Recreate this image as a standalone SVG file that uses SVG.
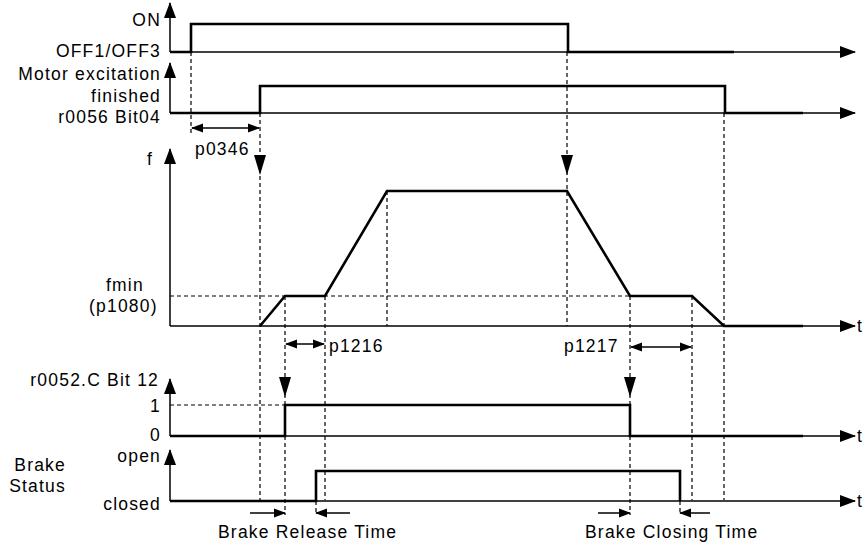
<svg xmlns="http://www.w3.org/2000/svg" width="864" height="546" viewBox="0 0 864 546">
<style>
text{font-family:"Liberation Sans",Arial,sans-serif;font-size:17.5px;letter-spacing:1.2px;fill:#000}
.r{text-anchor:end}
.ax{stroke:#000;stroke-width:1.5;fill:none}
.sig{stroke:#000;stroke-width:2.6;fill:none;stroke-linejoin:miter}
.d{stroke:#000;stroke-width:1.2;fill:none;stroke-dasharray:4,3}
.dim{stroke:#000;stroke-width:1.5;fill:none}
.big{fill:#000}
</style>
<defs>
<marker id="ah" markerUnits="userSpaceOnUse" markerWidth="16" markerHeight="12" refX="15" refY="6" orient="auto"><path d="M0,0 L16,6 L0,12 Z" fill="#000"/></marker>
<marker id="sh" markerUnits="userSpaceOnUse" markerWidth="12" markerHeight="10" refX="11" refY="5" orient="auto-start-reverse"><path d="M0,0.5 L12,5 L0,9.5 Z" fill="#000"/></marker>
</defs>
<g id="connectors">
<path class="ax" d="M170,52 V3" marker-end="url(#ah)"/>
<path class="ax" d="M170,52 H855" marker-end="url(#ah)"/>
<path class="ax" d="M170,113 V63" marker-end="url(#ah)"/>
<path class="ax" d="M170,113 H855" marker-end="url(#ah)"/>
<path class="ax" d="M170,326 V149" marker-end="url(#ah)"/>
<path class="ax" d="M170,326 H855" marker-end="url(#ah)"/>
<path class="ax" d="M170,436 V379" marker-end="url(#ah)"/>
<path class="ax" d="M170,436 H855" marker-end="url(#ah)"/>
<path class="ax" d="M170,501 V450" marker-end="url(#ah)"/>
<path class="ax" d="M170,501 H855" marker-end="url(#ah)"/>
<path class="d" d="M191,52 V136"/>
<path class="d" d="M260,113 V500"/>
<path class="d" d="M567,52 V326"/>
<path class="d" d="M285,296 V515"/>
<path class="d" d="M325,296 V500"/>
<path class="d" d="M387,191 V326"/>
<path class="d" d="M630,296 V515"/>
<path class="d" d="M692,296 V500"/>
<path class="d" d="M724,113 V500"/>
<path class="d" d="M316,501 V515"/>
<path class="d" d="M680,501 V515"/>
<path class="d" d="M170,296 H630"/>
<path class="d" d="M170,405 H285"/>
<path class="sig" d="M170,52 H191 V24 H568 V52 H734"/>
<path class="sig" d="M170,113 H260 V86 H725 V113 H803"/>
<path class="sig" d="M260,326 L285,296 H325 L387,191 H567 L630,296 H692 L724,326 H803"/>
<path class="sig" d="M170,436 H285 V405 H630 V436 H803"/>
<path class="sig" d="M170,501 H316 V471 H680 V501"/>
<path class="big" d="M254,155 H266 L260,175 Z"/>
<path class="big" d="M561,155 H573 L567,175 Z"/>
<path class="big" d="M279,377 H291 L285,397 Z"/>
<path class="big" d="M624,377 H636 L630,397 Z"/>
<path class="dim" d="M192,128 H259" marker-start="url(#sh)" marker-end="url(#sh)"/>
<path class="dim" d="M286,344 H324" marker-start="url(#sh)" marker-end="url(#sh)"/>
<path class="dim" d="M631,347 H691" marker-start="url(#sh)" marker-end="url(#sh)"/>
<path class="dim" d="M250,513 H285" marker-end="url(#sh)"/>
<path class="dim" d="M350,513 H316" marker-end="url(#sh)"/>
<path class="dim" d="M598,513 H630" marker-end="url(#sh)"/>
<path class="dim" d="M710,513 H680" marker-end="url(#sh)"/>
</g>
<g id="labels">
<text class="r" x="161" y="26">ON</text>
<text class="r" x="161" y="57">OFF1/OFF3</text>
<text class="r" x="161" y="80">Motor excitation</text>
<text class="r" x="161" y="102">finished</text>
<text class="r" x="161" y="123">r0056 Bit04</text>
<text x="195" y="155">p0346</text>
<text x="147" y="165">f</text>
<text x="106" y="291">fmin</text>
<text x="89" y="312">(p1080)</text>
<text x="329" y="352">p1216</text>
<text x="564" y="352">p1217</text>
<text x="857" y="332">t</text>
<text class="r" x="159" y="386">r0052.C Bit 12</text>
<text class="r" x="161" y="412">1</text>
<text class="r" x="161" y="441">0</text>
<text x="857" y="442">t</text>
<text class="r" x="161" y="462">open</text>
<text class="r" x="161" y="510">closed</text>
<text class="r" x="66" y="471">Brake</text>
<text class="r" x="66" y="492">Status</text>
<text x="857" y="507">t</text>
<text x="218" y="538">Brake Release Time</text>
<text x="585" y="538">Brake Closing Time</text>
</g>
</svg>
